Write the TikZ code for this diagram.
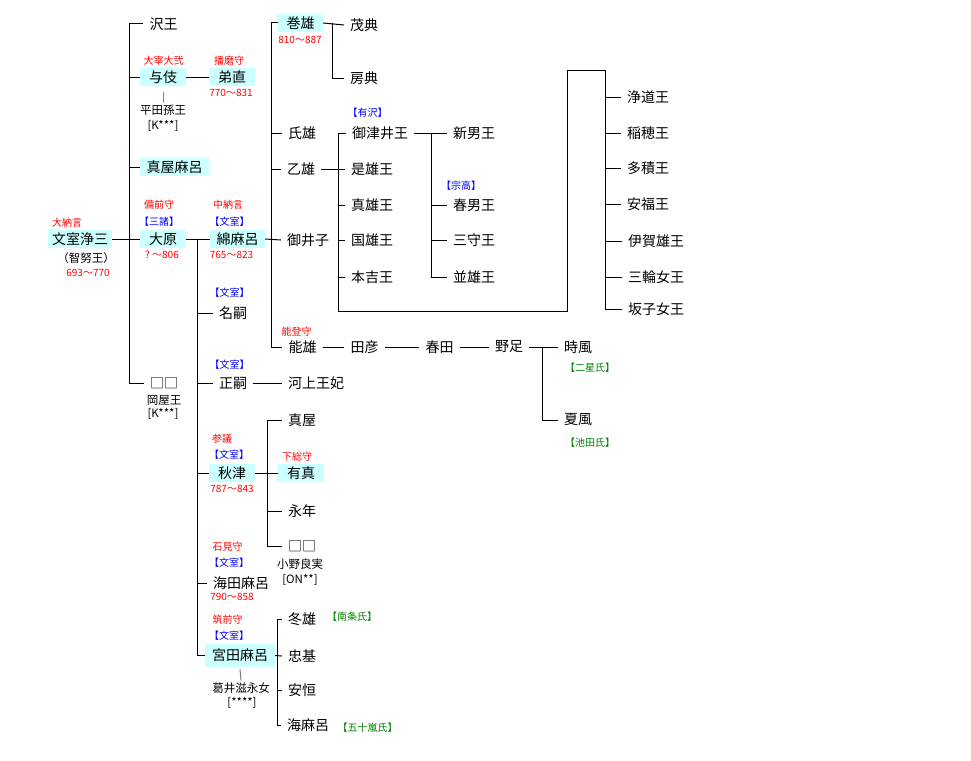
\documentclass[tikz,border=0pt]{standalone}
\usepackage{fontspec}
\setmainfont{Noto Sans CJK JP}
\definecolor{hlc}{HTML}{CCFFFF}
\definecolor{rd}{HTML}{FF0000}
\definecolor{bl}{HTML}{0000FF}
\definecolor{gr}{HTML}{008000}
\tikzset{
  nm/.style={font=\fontsize{14}{16}\selectfont, inner xsep=6pt, inner ysep=1pt},
  hl/.style={nm, fill=hlc, inner xsep=3pt, minimum height=18pt, inner ysep=0pt, minimum width=#1},
  rl/.style={font=\fontsize{10}{11}\selectfont, text=rd, inner sep=0pt},
  bll/.style={font=\fontsize{10}{11}\selectfont, text=bl, inner sep=0pt},
  grl/.style={font=\fontsize{10}{11}\selectfont, text=gr, inner sep=0pt},
  sm/.style={font=\fontsize{11.5}{12}\selectfont, inner sep=0pt},
  ln/.style={line width=1pt, draw=black},
  gln/.style={line width=1pt, draw=gray}
}
\begin{document}
\begin{tikzpicture}[x=1pt,y=-1pt]
\useasboundingbox[fill=white] (0,0) rectangle (971,760);
% --- names
\node[hl=64] (jozo) at (80,239) {文室浄三};
\node[nm] (sawa) at (163.5,24) {沢王};
\node[hl=46] (yoki) at (163,77) {与伎};
\node[hl=46] (otonao) at (232,77) {弟直};
\node[hl=69] (maya) at (174.5,167) {真屋麻呂};
\node[hl=46] (ohara) at (163,239) {大原};
\node[nm] (oka) at (164,383) {□□};
\node[hl=55] (wata) at (237.5,239) {綿麻呂};
\node[nm] (natsugu) at (233,313) {名嗣};
\node[nm] (masatsugu) at (233,383) {正嗣};
\node[nm] (kawakami) at (316,383) {河上王妃};
\node[hl=46] (akitsu) at (232,473) {秋津};
\node[nm] (kaida) at (241,583) {海田麻呂};
\node[hl=70, minimum height=23pt] (miyata) at (240,655.5) {宮田麻呂};
\node[hl=45] (makio) at (300.5,23) {巻雄};
\node[nm] (shigenori) at (364,25) {茂典};
\node[nm] (fusanori) at (364,78) {房典};
\node[nm] (ujio) at (302,133) {氏雄};
\node[nm] (otoo) at (301,169) {乙雄};
\node[nm] (gois) at (308,240) {御井子};
\node[nm] (noto) at (302.5,347) {能雄};
\node[nm] (tahiko) at (364.5,347) {田彦};
\node[nm] (haruta) at (439.5,347) {春田};
\node[nm] (noatari) at (509,347) {野足};
\node[nm] (tokikaze) at (578,347) {時風};
\node[nm] (natsukaze) at (578,420) {夏風};
\node[nm] (mitsui) at (380,133) {御津井王};
\node[nm] (koreo) at (372,169) {是雄王};
\node[nm] (mao) at (372,205) {真雄王};
\node[nm] (kunio) at (372,240) {国雄王};
\node[nm] (motoyoshi) at (372,277) {本吉王};
\node[nm] (niio) at (474,133) {新男王};
\node[nm] (haruo) at (474,205) {春男王};
\node[nm] (mimori) at (474,240) {三守王};
\node[nm] (namio) at (474,277) {並雄王};
\node[nm] (jodo) at (648,97) {浄道王};
\node[nm] (inaho) at (648,133) {稲穂王};
\node[nm] (tazumi) at (648,168) {多積王};
\node[nm] (yasufuku) at (648,204) {安福王};
\node[nm] (igao) at (656,241) {伊賀雄王};
\node[nm] (miwa) at (656,277) {三輪女王};
\node[nm] (sakako) at (656,309) {坂子女王};
\node[nm] (maya2) at (302,420) {真屋};
\node[hl=46] (arima) at (301,473) {有真};
\node[nm] (einen) at (302,511) {永年};
\node[nm] (ono) at (302,546) {□□};
\node[nm] (fuyuo) at (302,619) {冬雄};
\node[nm] (tadamoto) at (302,656) {忠基};
\node[nm] (yasutsune) at (302,690) {安恒};
\node[nm] (kaimaro) at (308,725) {海麻呂};
% --- labels
\node[rl] (l1) at (67,223) {大納言};
\node[sm] (l2) at (86,258) {（智努王）};
\node[rl] (l3) at (88,273) {693～770};
\node[rl] (l4) at (163.5,61) {大宰大弐};
\node[rl] (l5) at (229,61) {播磨守};
\node[rl] (l6) at (231,93) {770～831};
\node[sm] (hirata) at (163,110) {平田孫王};
\node[sm] (l7) at (163,126) {[K***]};
\node[rl] (l8) at (159,205) {備前守};
\node[bll] (l9) at (159,222) {【三諸】};
\node[rl] (l10) at (162,255) {?\ ～806};
\node[rl] (l11) at (228,205) {中納言};
\node[bll] (l12) at (229.5,222) {【文室】};
\node[rl] (l13) at (231.5,255) {765～823};
\node[bll] (l14) at (229.5,293) {【文室】};
\node[bll] (l15) at (229.5,365) {【文室】};
\node[sm] (l16) at (164,400) {岡屋王};
\node[sm] (l17) at (163,414) {[K***]};
\node[rl] (l18) at (300,40) {810～887};
\node[bll] (l19) at (367.5,113) {【有沢】};
\node[bll] (l20) at (461,186) {【宗高】};
\node[rl] (l21) at (296.5,332) {能登守};
\node[grl] (l22) at (590,368) {【二星氏】};
\node[grl] (l23) at (590,443) {【池田氏】};
\node[rl] (l24) at (222,439) {参議};
\node[bll] (l25) at (229,455) {【文室】};
\node[rl] (l26) at (232,489) {787～843};
\node[rl] (l27) at (297,457) {下総守};
\node[sm] (l28) at (300,564) {小野良実};
\node[sm] (l29) at (300,580) {[ON**]};
\node[rl] (l30) at (227.5,547) {石見守};
\node[bll] (l31) at (229,563) {【文室】};
\node[rl] (l32) at (232,597) {790～858};
\node[rl] (l33) at (227.5,620) {筑前守};
\node[bll] (l34) at (229,636) {【文室】};
\node[sm] (kuzui) at (241,688) {葛井滋永女};
\node[sm] (l35) at (242,703) {[****]};
\node[grl] (l36) at (352,617) {【南条氏】};
\node[grl] (l37) at (367.5,728) {【五十嵐氏】};
% --- bus coordinates
\coordinate (busA) at (129,239);
\coordinate (busB) at (197,239);
\coordinate (busC) at (271,239);
\coordinate (busD) at (332,23);
\coordinate (busE) at (338,169);
\coordinate (busF) at (605,169);
\coordinate (busG) at (431,133);
\coordinate (busH) at (542,347);
\coordinate (busI) at (267,473);
\coordinate (busJ) at (277,656);
\coordinate (c0) at (338,311);
\coordinate (c1) at (567,311);
\coordinate (c2) at (567,70);
\coordinate (c3) at (605,70);
% --- connectors
\draw[ln] (jozo.east) -- (ohara.west);
\draw[ln] (busA |- sawa) -- (busA |- oka);
\foreach \n in {sawa,yoki,maya,oka} \draw[ln] (busA |- \n) -- (\n.west);
\draw[ln] (yoki.east) -- (otonao.west);
\draw[gln] ([yshift=-6pt]yoki.south) -- ([yshift=2pt]hirata.north);
\draw[ln] (ohara.east) -- (wata.west);
\draw[ln] (busB |- ohara) -- (busB |- miyata);
\foreach \n in {natsugu,masatsugu,akitsu,kaida,miyata} \draw[ln] (busB |- \n) -- (\n.west);
\draw[ln] (masatsugu.east) -- (kawakami.west);
\draw[ln] (wata.east) -- (gois.west);
\draw[ln] (busC |- makio) -- (busC |- noto);
\foreach \n in {makio,ujio,otoo,noto} \draw[ln] (busC |- \n) -- (\n.west);
\draw[ln] (makio.east) -- (shigenori.west);
\draw[ln] (busD |- makio) -- (busD |- fusanori) -- (fusanori.west);
\draw[ln] (otoo.east) -- (koreo.west);
\draw[ln] (busE |- mitsui) -- (c0) -- (c1) -- (c2) -- (c3) -- (busF |- sakako);
\foreach \n in {mitsui,mao,kunio,motoyoshi} \draw[ln] (busE |- \n) -- (\n.west);
\foreach \n in {jodo,inaho,tazumi,yasufuku,igao,miwa,sakako} \draw[ln] (busF |- \n) -- (\n.west);
\draw[ln] (mitsui.east) -- (niio.west);
\draw[ln] (busG |- mitsui) -- (busG |- namio);
\foreach \n in {haruo,mimori,namio} \draw[ln] (busG |- \n) -- (\n.west);
\draw[ln] (noto.east) -- (tahiko.west);
\draw[ln] (tahiko.east) -- (haruta.west);
\draw[ln] (haruta.east) -- (noatari.west);
\draw[ln] (noatari.east) -- (tokikaze.west);
\draw[ln] (busH |- noatari) -- (busH |- natsukaze) -- (natsukaze.west);
\draw[ln] (akitsu.east) -- (arima.west);
\draw[ln] (busI |- maya2) -- (busI |- ono);
\foreach \n in {maya2,einen,ono} \draw[ln] (busI |- \n) -- (\n.west);
\draw[ln] (miyata.east) -- (tadamoto.west);
\draw[ln] (busJ |- fuyuo) -- (busJ |- kaimaro);
\foreach \n in {fuyuo,yasutsune,kaimaro} \draw[ln] (busJ |- \n) -- (\n.west);
\draw[gln] ([yshift=-2pt]miyata.south) -- ([yshift=2pt]kuzui.north);
\end{tikzpicture}
\end{document}
